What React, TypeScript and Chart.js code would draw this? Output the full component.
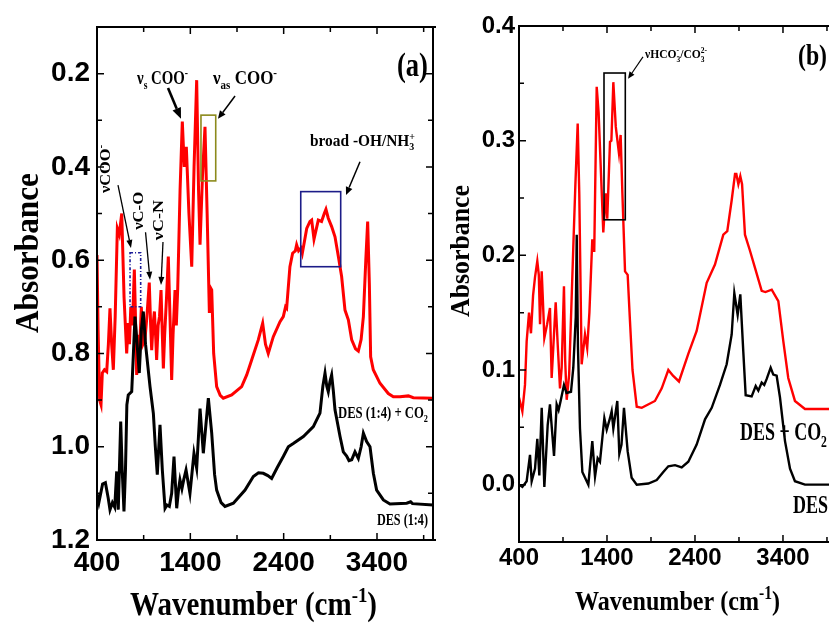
import React, { useEffect, useRef } from 'react';
import { Chart, registerables } from 'chart.js';

Chart.register(...registerables);

// ---------------- DATA ----------------
// Panel (a) x / y ticks
const X_TICKS = [400, 1400, 2400, 3400];
const X_MINOR = [900, 1900, 2900, 3900];
const A_Y_TICKS = [0.2, 0.4, 0.6, 0.8, 1.0, 1.2];
const A_Y_MINOR = [0.3, 0.5, 0.7, 0.9, 1.1];
const B_Y_TICKS = [0.0, 0.1, 0.2, 0.3, 0.4];
const B_Y_MINOR = [0.05, 0.15, 0.25, 0.35];

// Panel (a): DES (1:4) + CO2 (red)
const A_RED_WN = [400, 412, 428, 443, 457, 480, 504, 522, 539, 557, 575, 595, 618, 639, 665, 690, 718, 735, 748, 762, 780, 800, 812, 825, 840, 855, 875, 893, 914, 935, 960, 975, 986, 1000, 1015, 1030, 1039, 1055, 1070, 1086, 1100, 1111, 1125, 1145, 1164, 1182, 1200, 1215, 1236, 1250, 1265, 1290, 1314, 1335, 1357, 1385, 1415, 1440, 1468, 1488, 1504, 1530, 1557, 1580, 1604, 1618, 1629, 1650, 1682, 1720, 1753, 1843, 1950, 2004, 2057, 2128, 2175, 2205, 2235, 2289, 2361, 2396, 2420, 2432, 2467, 2496, 2525, 2539, 2560, 2586, 2600, 2647, 2682, 2700, 2725, 2771, 2806, 2835, 2853, 2878, 2914, 2950, 2986, 3021, 3057, 3093, 3129, 3170, 3200, 3230, 3254, 3280, 3300, 3318, 3332, 3360, 3432, 3521, 3575, 3646, 3736, 3789, 4000];
const A_RED_ABS = [0.589, 0.75, 0.9, 0.91, 0.842, 0.835, 0.839, 0.78, 0.703, 0.78, 0.835, 0.72, 0.532, 0.545, 0.5, 0.68, 0.8, 0.735, 0.78, 0.7, 0.74, 0.62, 0.72, 0.846, 0.76, 0.8, 0.7, 0.78, 0.77, 0.72, 0.648, 0.74, 0.793, 0.74, 0.71, 0.77, 0.814, 0.74, 0.72, 0.664, 0.76, 0.832, 0.76, 0.68, 0.592, 0.72, 0.857, 0.76, 0.664, 0.74, 0.66, 0.45, 0.303, 0.4, 0.357, 0.5, 0.614, 0.4, 0.214, 0.45, 0.567, 0.42, 0.314, 0.5, 0.713, 0.66, 0.664, 0.8, 0.871, 0.89, 0.896, 0.889, 0.871, 0.846, 0.814, 0.771, 0.735, 0.78, 0.8, 0.764, 0.732, 0.721, 0.7, 0.703, 0.614, 0.585, 0.58, 0.567, 0.58, 0.574, 0.585, 0.532, 0.517, 0.514, 0.555, 0.514, 0.517, 0.5, 0.491, 0.51, 0.528, 0.55, 0.592, 0.635, 0.707, 0.728, 0.771, 0.79, 0.795, 0.77, 0.721, 0.6, 0.517, 0.65, 0.807, 0.835, 0.864, 0.886, 0.893, 0.893, 0.891, 0.895, 0.896];

// Panel (a): DES (1:4) (black)
const A_BLK_WN = [400, 420, 460, 490, 520, 539, 565, 590, 611, 628, 654, 670, 689, 705, 720, 735, 772, 790, 807, 830, 853, 875, 896, 920, 968, 1004, 1025, 1046, 1075, 1100, 1129, 1150, 1175, 1200, 1225, 1254, 1275, 1289, 1310, 1330, 1354, 1396, 1439, 1468, 1504, 1539, 1593, 1629, 1660, 1682, 1730, 1771, 1861, 1986, 2075, 2130, 2182, 2230, 2271, 2330, 2396, 2450, 2503, 2611, 2718, 2789, 2820, 2843, 2862, 2878, 2896, 2914, 2932, 2950, 3004, 3039, 3075, 3100, 3129, 3164, 3200, 3230, 3254, 3289, 3325, 3361, 3396, 3468, 3539, 3718, 3760, 3780, 4000];
const A_BLK_ABS = [1.1, 1.12, 1.08, 1.077, 1.11, 1.135, 1.12, 1.13, 1.053, 1.135, 0.946, 1.05, 1.139, 1.05, 0.91, 0.889, 0.882, 0.8, 0.721, 0.78, 0.842, 0.75, 0.71, 0.78, 0.871, 0.929, 1.0, 1.06, 0.953, 1.05, 1.132, 1.125, 1.128, 1.1, 1.021, 1.132, 1.09, 1.071, 1.09, 1.07, 1.05, 1.1, 1.014, 1.046, 0.918, 1.014, 0.896, 0.971, 1.06, 1.093, 1.12, 1.128, 1.121, 1.093, 1.064, 1.056, 1.057, 1.062, 1.068, 1.045, 1.021, 1.0, 0.993, 0.978, 0.957, 0.928, 0.87, 0.842, 0.87, 0.882, 0.86, 0.846, 0.88, 0.921, 0.978, 1.011, 1.02, 1.03, 1.028, 1.011, 1.025, 1.0, 0.971, 0.989, 1.0, 1.057, 1.093, 1.114, 1.123, 1.121, 1.118, 1.122, 1.125];

// Panel (b): DES + CO2 (red)
const B_RED_WN = [400, 438, 468, 487, 514, 536, 560, 582, 608, 625, 639, 658, 672, 688, 720, 752, 771, 790, 817, 840, 866, 885, 911, 925, 942, 970, 1017, 1040, 1067, 1085, 1112, 1150, 1175, 1200, 1233, 1255, 1283, 1305, 1358, 1385, 1403, 1434, 1450, 1472, 1500, 1536, 1555, 1575, 1605, 1635, 1661, 1690, 1738, 1795, 1945, 2022, 2097, 2150, 2218, 2324, 2419, 2533, 2627, 2722, 2767, 2817, 2855, 2870, 2893, 2915, 2935, 2968, 3025, 3082, 3158, 3200, 3272, 3347, 3404, 3460, 3536, 3650, 3923];
const B_RED_ABS = [0.076, 0.064, 0.087, 0.125, 0.15, 0.132, 0.165, 0.181, 0.195, 0.183, 0.14, 0.186, 0.16, 0.128, 0.14, 0.154, 0.093, 0.12, 0.159, 0.122, 0.084, 0.102, 0.173, 0.108, 0.074, 0.096, 0.207, 0.26, 0.315, 0.254, 0.105, 0.131, 0.119, 0.15, 0.214, 0.203, 0.347, 0.324, 0.22, 0.254, 0.232, 0.299, 0.3, 0.351, 0.312, 0.289, 0.305, 0.254, 0.186, 0.183, 0.143, 0.1, 0.068, 0.067, 0.073, 0.084, 0.1, 0.095, 0.09, 0.114, 0.134, 0.176, 0.192, 0.218, 0.221, 0.248, 0.271, 0.271, 0.262, 0.269, 0.262, 0.218, 0.204, 0.189, 0.169, 0.168, 0.17, 0.16, 0.125, 0.093, 0.073, 0.066, 0.066];

// Panel (b): DES (black)
const B_BLK_WN = [400, 438, 487, 525, 544, 582, 608, 631, 658, 688, 726, 752, 798, 828, 850, 873, 911, 940, 991, 1017, 1045, 1056, 1070, 1093, 1120, 1188, 1233, 1264, 1294, 1320, 1370, 1397, 1434, 1453, 1472, 1517, 1540, 1565, 1593, 1635, 1680, 1738, 1870, 1965, 2040, 2097, 2173, 2249, 2324, 2419, 2514, 2590, 2684, 2760, 2817, 2847, 2885, 2915, 2949, 2976, 3044, 3090, 3120, 3158, 3187, 3214, 3260, 3290, 3328, 3366, 3423, 3480, 3536, 3650, 3923];
const B_BLK_ABS = [0.0, -0.002, 0.003, 0.026, 0.003, 0.014, 0.04, 0.008, 0.067, -0.002, 0.052, 0.07, 0.025, 0.07, 0.065, 0.073, 0.087, 0.08, 0.081, 0.102, 0.146, 0.218, 0.12, 0.049, 0.011, 0.0, 0.038, 0.007, 0.023, 0.02, 0.058, 0.048, 0.058, 0.064, 0.049, 0.073, 0.027, 0.035, 0.067, 0.029, 0.006, 0.0, 0.001, 0.004, 0.011, 0.016, 0.017, 0.015, 0.02, 0.035, 0.057, 0.067, 0.087, 0.105, 0.131, 0.167, 0.148, 0.166, 0.116, 0.078, 0.077, 0.086, 0.082, 0.089, 0.087, 0.092, 0.102, 0.096, 0.095, 0.076, 0.038, 0.014, 0.003, 0.0, 0.0];

// ---------------- DRAWING HELPERS ----------------
const SERIF = '"Liberation Serif", "Times New Roman", serif';
const SANS = '"Liberation Sans", Arial, sans-serif';

type Seg = { t: string; m: number };
function parseRich(s: string): Seg[] {
  const segs: Seg[] = [];
  let i = 0;
  let cur = '';
  while (i < s.length) {
    const c = s[i];
    if ((c === '_' || c === '^') && s[i + 1] === '{') {
      if (cur) { segs.push({ t: cur, m: 0 }); cur = ''; }
      const end = s.indexOf('}', i + 2);
      segs.push({ t: s.slice(i + 2, end), m: c === '_' ? 1 : 2 });
      i = end + 1;
    } else { cur += c; i++; }
  }
  if (cur) segs.push({ t: cur, m: 0 });
  return segs;
}

type TextOpt = { size: number; w?: number; sx?: number; align?: string; rot?: boolean; baseline?: string; family?: string };
function drawRich(ctx: CanvasRenderingContext2D, s: string, x: number, y: number, o: TextOpt) {
  const segs = parseRich(s);
  const size = o.size;
  const fam = o.family || SERIF;
  const font = (m: number) => `bold ${m ? size * 0.65 : size}px ${fam}`;
  // layout with stacked sub/sup
  const pos: number[] = [];
  let cx = 0;
  let total = 0;
  let prevStart = 0;
  let prevW = 0;
  segs.forEach((sg, i) => {
    ctx.font = font(sg.m);
    const w = ctx.measureText(sg.t).width;
    if (sg.m === 2 && i > 0 && segs[i - 1].m === 1) {
      pos.push(prevStart);
      cx = prevStart + Math.max(prevW, w);
    } else {
      pos.push(cx);
      prevStart = cx;
      prevW = w;
      cx += w;
    }
    total = Math.max(total, cx);
  });
  const sx = o.w ? o.w / total : (o.sx || 1);
  ctx.save();
  ctx.translate(x, y);
  if (o.rot) ctx.rotate(-Math.PI / 2);
  ctx.scale(sx, 1);
  ctx.fillStyle = '#000';
  ctx.textBaseline = (o.baseline || 'alphabetic') as CanvasTextBaseline;
  ctx.textAlign = 'left';
  const off = o.align === 'right' ? -total : o.align === 'center' ? -total / 2 : 0;
  segs.forEach((sg, i) => {
    ctx.font = font(sg.m);
    const dy = sg.m === 1 ? size * 0.28 : sg.m === 2 ? -size * 0.4 : 0;
    ctx.fillText(sg.t, off + pos[i], dy);
  });
  ctx.restore();
}

function drawArrow(ctx: CanvasRenderingContext2D, x1: number, y1: number, x2: number, y2: number, lw: number, hl: number, hw: number) {
  const ang = Math.atan2(y2 - y1, x2 - x1);
  const bx = x2 - hl * Math.cos(ang);
  const by = y2 - hl * Math.sin(ang);
  ctx.strokeStyle = '#000';
  ctx.fillStyle = '#000';
  ctx.lineWidth = lw;
  ctx.setLineDash([]);
  ctx.beginPath();
  ctx.moveTo(x1, y1);
  ctx.lineTo(bx, by);
  ctx.stroke();
  ctx.beginPath();
  ctx.moveTo(x2, y2);
  ctx.lineTo(bx + hw * Math.sin(ang), by - hw * Math.cos(ang));
  ctx.lineTo(bx - hw * Math.sin(ang), by + hw * Math.cos(ang));
  ctx.closePath();
  ctx.fill();
}

type Deco = {
  rightFrame: boolean;
  yMajor: number[];
  yMinor: number[];
  boxes: { x1: number; x2: number; y1: number; y2: number; color: string; dash?: number[] }[];
  arrows: { x1: number; y1: number; x2: number; y2: number; lw: number; hl: number; hw: number }[];
  texts: ({ t: string; x: number; y: number; px?: boolean } & TextOpt)[];
};

function decoPlugin(d: Deco) {
  return {
    id: 'deco',
    afterDraw(chart: any) {
      const { ctx, chartArea: a, scales } = chart;
      const xs = scales.x;
      const ys = scales.y;
      const px = (v: number) => xs.getPixelForValue(v);
      const py = (v: number) => ys.getPixelForValue(v);
      ctx.save();
      // frame
      ctx.strokeStyle = '#000';
      ctx.lineWidth = 2;
      ctx.lineCap = 'square';
      ctx.beginPath();
      ctx.moveTo(a.right + 2, a.top);
      ctx.lineTo(a.left, a.top);
      ctx.lineTo(a.left, a.bottom);
      ctx.lineTo(a.right + 2, a.bottom);
      if (d.rightFrame) {
        ctx.moveTo(a.right, a.top);
        ctx.lineTo(a.right, a.bottom);
      }
      ctx.stroke();
      ctx.lineCap = 'butt';
      // ticks (inward)
      ctx.lineWidth = 1.5;
      ctx.beginPath();
      const xt = (v: number, len: number) => {
        const x = px(v);
        ctx.moveTo(x, a.bottom);
        ctx.lineTo(x, a.bottom - len);
        ctx.moveTo(x, a.top);
        ctx.lineTo(x, a.top + len);
      };
      const yt = (v: number, len: number) => {
        const y = py(v);
        ctx.moveTo(a.left, y);
        ctx.lineTo(a.left + len, y);
        if (d.rightFrame) {
          ctx.moveTo(a.right, y);
          ctx.lineTo(a.right - len, y);
        }
      };
      X_TICKS.forEach((v) => xt(v, 7));
      X_MINOR.forEach((v) => xt(v, 5));
      d.yMajor.forEach((v) => yt(v, 7));
      d.yMinor.forEach((v) => yt(v, 5));
      ctx.stroke();
      // boxes
      d.boxes.forEach((b) => {
        ctx.strokeStyle = b.color;
        ctx.lineWidth = 1.6;
        ctx.setLineDash(b.dash || []);
        const x1 = px(b.x1), x2 = px(b.x2), y1 = py(b.y1), y2 = py(b.y2);
        ctx.strokeRect(Math.min(x1, x2), Math.min(y1, y2), Math.abs(x2 - x1), Math.abs(y2 - y1));
      });
      ctx.setLineDash([]);
      // arrows
      d.arrows.forEach((r) => drawArrow(ctx, px(r.x1), py(r.y1), px(r.x2), py(r.y2), r.lw, r.hl, r.hw));
      // texts
      d.texts.forEach((t) => {
        const x = t.px ? t.x : px(t.x);
        const y = t.px ? t.y : py(t.y);
        drawRich(ctx, t.t, x, y, t);
      });
      ctx.restore();
    },
  };
}

function pts(wn: number[], ab: number[]) {
  return wn.map((x, i) => ({ x, y: ab[i] }));
}

function makeOptions(p: {
  yMin: number; yMax: number; reverse: boolean; yTicks: number[]; xMax: number;
  left: number; bottom: number; top: number; right: number; font: number; xPad: number; yPad: number;
}) {
  return {
    animation: false,
    responsive: false,
    maintainAspectRatio: false,
    events: [],
    layout: { padding: { top: p.top, right: p.right, left: 0, bottom: 0 } },
    plugins: { legend: { display: false }, tooltip: { enabled: false }, title: { display: false } },
    elements: { point: { radius: 0 }, line: { tension: 0 } },
    scales: {
      x: {
        type: 'linear',
        min: 400,
        max: p.xMax,
        afterBuildTicks: (s: any) => { s.ticks = X_TICKS.map((v) => ({ value: v })); },
        afterFit: (s: any) => { s.height = p.bottom; },
        grid: { display: false, drawTicks: false },
        border: { display: false },
        ticks: {
          autoSkip: false, maxRotation: 0, minRotation: 0, padding: p.xPad, color: '#000',
          font: { family: SANS, size: p.font, weight: 'bold' },
          callback: (v: any) => String(v),
        },
      },
      y: {
        type: 'linear',
        min: p.yMin,
        max: p.yMax,
        reverse: p.reverse,
        afterBuildTicks: (s: any) => { s.ticks = p.yTicks.map((v) => ({ value: v })); },
        afterFit: (s: any) => { s.width = p.left; },
        grid: { display: false, drawTicks: false },
        border: { display: false },
        ticks: {
          autoSkip: false, padding: p.yPad, color: '#000',
          font: { family: SANS, size: p.font, weight: 'bold' },
          callback: (v: any) => Number(v).toFixed(1),
        },
      },
    },
  };
}

const decoA: Deco = {
  rightFrame: true,
  yMajor: A_Y_TICKS,
  yMinor: A_Y_MINOR,
  boxes: [
    { x1: 1514, x2: 1672, y1: 0.289, y2: 0.43, color: '#8c8a1c' },
    { x1: 2583, x2: 3011, y1: 0.453, y2: 0.614, color: '#1c1c88' },
    { x1: 754, x2: 868, y1: 0.584, y2: 0.70, color: '#1c1c99', dash: [3, 2, 1, 2] },
  ],
  arrows: [
    { x1: 1161, y1: 0.231, x2: 1300, y2: 0.297, lw: 2.6, hl: 11, hw: 4.5 },
    { x1: 1879, y1: 0.248, x2: 1696, y2: 0.297, lw: 1.5, hl: 8, hw: 3.5 },
    { x1: 3218, y1: 0.389, x2: 3068, y2: 0.46, lw: 1.5, hl: 8, hw: 3.5 },
    { x1: 625, y1: 0.439, x2: 764, y2: 0.574, lw: 1.3, hl: 8, hw: 3 },
    { x1: 920, y1: 0.54, x2: 968, y2: 0.642, lw: 1.3, hl: 8, hw: 3 },
    { x1: 1107, y1: 0.561, x2: 1086, y2: 0.653, lw: 1.3, hl: 8, hw: 3 },
  ],
  texts: [
    { t: '(a)', x: 3946, y: 0.205, size: 34, w: 31, align: 'right' },
    { t: 'ν_{s} COO^{-}', x: 829, y: 0.222, size: 18, w: 51 },
    { t: 'ν_{as} COO^{-}', x: 1643, y: 0.222, size: 18, w: 64 },
    { t: 'broad -OH/NH_{3}^{+}', x: 2682, y: 0.355, size: 16, w: 105 },
    { t: 'νCOO^{-}', x: 539, y: 0.456, size: 15, w: 48, rot: true },
    { t: 'νC-O', x: 893, y: 0.535, size: 15, w: 38, rot: true },
    { t: 'νC-N', x: 1107, y: 0.557, size: 15, w: 40, rot: true },
    { t: 'DES (1:4) + CO_{2}', x: 3946, y: 0.938, size: 16, w: 90, align: 'right' },
    { t: 'DES (1:4)', x: 3946, y: 1.168, size: 16, w: 51, align: 'right' },
    { t: 'Absorbance', x: 29, y: 253, px: true, size: 33, w: 160, rot: true, align: 'center', baseline: 'middle' },
    { t: 'Wavenumber (cm^{-1})', x: 130, y: 615, px: true, size: 33, w: 247 },
  ],
};

const decoB: Deco = {
  rightFrame: false,
  yMajor: B_Y_TICKS,
  yMinor: B_Y_MINOR,
  boxes: [{ x1: 1366, x2: 1608, y1: 0.231, y2: 0.359, color: '#000' }],
  arrows: [{ x1: 1809, y1: 0.373, x2: 1639, y2: 0.354, lw: 1.2, hl: 7, hw: 3 }],
  texts: [
    { t: '(b)', x: 3900, y: 0.366, size: 30, w: 29, align: 'right' },
    { t: 'νHCO_{3}^{-}/CO_{3}^{2-}', x: 1832, y: 0.372, size: 13, w: 62 },
    { t: 'DES + CO_{2}', x: 2911, y: 0.039, size: 25, w: 87 },
    { t: 'DES', x: 3514, y: -0.025, size: 25, sx: 0.72 },
    { t: 'Absorbance', x: 17, y: 251, px: true, size: 28, w: 132, rot: true, align: 'center', baseline: 'middle' },
    { t: 'Wavenumber (cm^{-1})', x: 130, y: 610, px: true, size: 28, w: 205 },
  ],
};

export default function App() {
  const refA = useRef<HTMLCanvasElement>(null);
  const refB = useRef<HTMLCanvasElement>(null);

  useEffect(() => {
    const chartA = new Chart(refA.current as HTMLCanvasElement, {
      type: 'line',
      data: {
        datasets: [
          { data: pts(A_BLK_WN, A_BLK_ABS), borderColor: '#000000', borderWidth: 3, pointRadius: 0, fill: false },
          { data: pts(A_RED_WN, A_RED_ABS), borderColor: '#ff0000', borderWidth: 3, pointRadius: 0, fill: false },
        ],
      },
      options: makeOptions({ yMin: 0.1, yMax: 1.2, reverse: true, yTicks: A_Y_TICKS, xMax: 4000, left: 97, bottom: 86, top: 27, right: 12, font: 28, xPad: 6, yPad: 7 }) as any,
      plugins: [decoPlugin(decoA)],
    });
    const chartB = new Chart(refB.current as HTMLCanvasElement, {
      type: 'line',
      data: {
        datasets: [
          { data: pts(B_BLK_WN, B_BLK_ABS), borderColor: '#000000', borderWidth: 2.4, pointRadius: 0, fill: false },
          { data: pts(B_RED_WN, B_RED_ABS), borderColor: '#ff0000', borderWidth: 2.4, pointRadius: 0, fill: false },
        ],
      },
      options: makeOptions({ yMin: -0.05, yMax: 0.4, reverse: false, yTicks: B_Y_TICKS, xMax: 3923, left: 74, bottom: 84, top: 26, right: 0, font: 24, xPad: 2, yPad: 4 }) as any,
      plugins: [decoPlugin(decoB)],
    });
    return () => {
      chartA.destroy();
      chartB.destroy();
    };
  }, []);

  return (
    <div style={{ position: 'fixed', left: 0, top: 0, width: 829, height: 626, background: '#fff', overflow: 'hidden' }}>
      <canvas ref={refA} width={445} height={626} style={{ position: 'absolute', left: 0, top: 0, width: 445, height: 626 }} />
      <canvas ref={refB} width={384} height={626} style={{ position: 'absolute', left: 445, top: 0, width: 384, height: 626 }} />
    </div>
  );
}
